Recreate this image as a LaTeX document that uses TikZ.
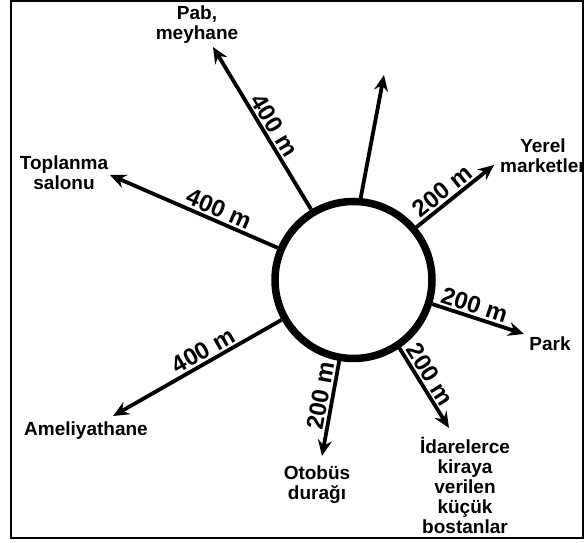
\documentclass[tikz,border=0pt]{standalone}
\usepackage{fontspec}
\setmainfont{Liberation Sans}
\usepackage{tikz}
\usetikzlibrary{positioning,arrows.meta}

\begin{document}
\begin{tikzpicture}[x=1pt,y=1pt,
		spoke/.style={-{Stealth[length=16pt,width=14pt,inset=5.5pt]},line width=3.8pt},
		place/.style={font=\bfseries\fontsize{19}{20}\selectfont,align=center,inner sep=0pt},
		dist/.style={font=\bfseries\fontsize{24}{24}\selectfont,sloped,above,inner sep=2pt}]
		\useasboundingbox (0,0) rectangle (584,543);
		\draw[line width=2pt] (11,5) rectangle (583,542);
		\node[circle,draw=black,line width=7.5pt,minimum size=157pt,inner sep=0pt] (c) at (353.5,263) {};
		
		\coordinate (pabt) at (213,496);
		\coordinate (upt) at (384,468);
		\coordinate (yerelt) at (494,378);
		\coordinate (parkt) at (524,209);
		\coordinate (idaret) at (449,115);
		\coordinate (otobust) at (322,87);
		\coordinate (amelt) at (113,127);
		\coordinate (toplt) at (110,368);
		
		\node[place] (pab) at (197,518) {Pab,\\meyhane};
		\node[place] (yerel) at (543,387) {Yerel\\marketler};
		\node[place] (park) at (550,199) {Park};
		\node[place] (idare) at (465,58) {İdarelerce\\kiraya\\verilen\\küçük\\bostanlar};
		\node[place] (otobus) at (317,58) {Otobüs\\durağı};
		\node[place] (amel) at (86,112) {Ameliyathane};
		\node[place] (topl) at (64,370) {Toplanma\\salonu};
		
		\draw[spoke] (c.121) -- node[dist,pos=0.48] {400 m} (pabt);
		\draw[spoke] (c.85.5) -- (upt);
		\draw[spoke] (c.40) -- node[dist,pos=0.43] {200 m} (yerelt);
		\draw[spoke] (c.-17) -- node[dist,pos=0.42] {200 m} (parkt);
		\draw[spoke] (c.-56.6) -- node[dist,pos=0.41] {200 m} (idaret);
		\draw[spoke] (c.-100) -- node[dist,pos=0.39] {200 m} (otobust);
		\draw[spoke] (c.209.2) -- node[dist,pos=0.43] {400 m} (amelt);
		\draw[spoke] (c.157) -- node[dist,pos=0.38] {400 m} (toplt);
	\end{tikzpicture}
\end{document}
